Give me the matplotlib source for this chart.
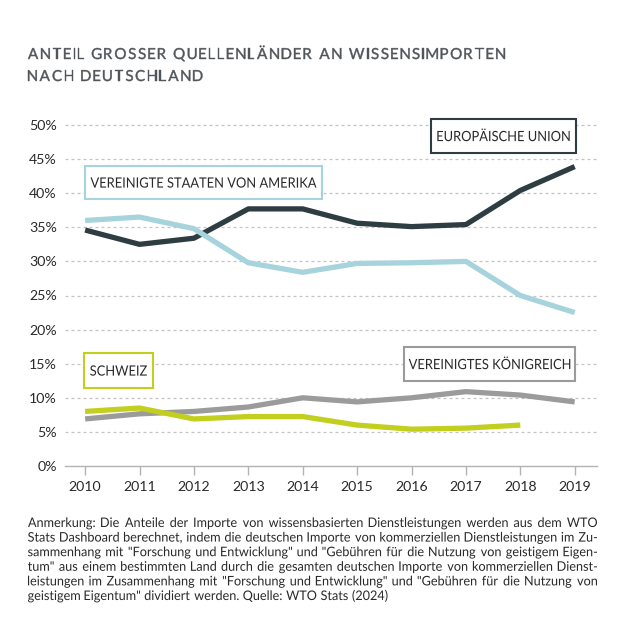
import matplotlib
matplotlib.use('Agg')
import matplotlib.pyplot as plt
from matplotlib.patches import Rectangle, PathPatch
from matplotlib.textpath import TextPath
from matplotlib.font_manager import FontProperties
from matplotlib.transforms import Affine2D, IdentityTransform

# ── Daten ──
years = [2010, 2011, 2012, 2013, 2014, 2015, 2016, 2017, 2018, 2019]
eu = [34.6, 32.5, 33.4, 37.7, 37.7, 35.6, 35.1, 35.4, 40.4, 43.9]
usa = [36.0, 36.5, 34.8, 29.8, 28.4, 29.7, 29.8, 30.0, 25.0, 22.5]
uk = [6.9, 7.65, 8.0, 8.65, 10.0, 9.4, 10.0, 10.9, 10.4, 9.4]
ch_years = [2010, 2011, 2012, 2013, 2014, 2015, 2016, 2017, 2018]
ch = [8.0, 8.5, 6.9, 7.25, 7.25, 6.0, 5.4, 5.55, 6.0]
yticks = [0, 5, 10, 15, 20, 25, 30, 35, 40, 45, 50]

title_lines = ['ANTEIL GROSSER QUELLENLÄNDER AN WISSENSIMPORTEN',
               'NACH DEUTSCHLAND']
note_lines = [
    'Anmerkung: Die Anteile der Importe von wissensbasierten Dienstleistungen werden aus dem WTO',
    'Stats Dashboard berechnet, indem die deutschen Importe von kommerziellen Dienstleistungen im Zu-',
    'sammenhang mit "Forschung und Entwicklung" und "Gebühren für die Nutzung von geistigem Eigen-',
    'tum" aus einem bestimmten Land durch die gesamten deutschen Importe von kommerziellen Dienst-',
    'leistungen im Zusammenhang mit "Forschung und Entwicklung" und "Gebühren für die Nutzung von',
    'geistigem Eigentum" dividiert werden. Quelle: WTO Stats (2024)',
]

# ── Stil ──
FONT = 'Lato'
PROP = FontProperties(family=FONT)
EU_C = '#2e3d42'
USA_C = '#a7d4dc'
UK_C = '#9b9b9b'
CH_C = '#c3cf1f'
TEXT = '#2a2a2a'
TITLE_C = '#505559'
GRID = '#c4c4c4'
AXIS = '#b3b3b3'

plt.rcParams['font.family'] = [FONT, 'DejaVu Sans']

W = H = 630
fig = plt.figure(figsize=(6.3, 6.3), dpi=100)
fig.patch.set_facecolor('white')


def fx(px):
    return px / W


def fy(py):
    return 1 - py / H


ax = fig.add_axes([fx(65), fy(466), fx(597) - fx(65), (466 - 125) / H])

LW = 3.8
ax.plot(years, eu, color=EU_C, lw=LW, solid_joinstyle='round', solid_capstyle='butt', zorder=3)
ax.plot(years, uk, color=UK_C, lw=LW, solid_joinstyle='round', solid_capstyle='butt', zorder=3)
ax.plot(years, usa, color=USA_C, lw=LW, solid_joinstyle='round', solid_capstyle='butt', zorder=4)
ax.plot(ch_years, ch, color=CH_C, lw=LW, solid_joinstyle='round', solid_capstyle='butt', zorder=4)

ax.set_xlim(2009.63, 2019.41)
ax.set_ylim(0, 50)
ax.set_xticks(years)
ax.set_xticklabels([str(y) for y in years])
ax.set_yticks(yticks)
ax.set_yticklabels([f'{v}%' for v in yticks])

for v in yticks[1:]:
    ax.axhline(v, color=GRID, lw=0.9, dashes=(2.4, 2.4), zorder=1, clip_on=False)

for s in ['top', 'right', 'left']:
    ax.spines[s].set_visible(False)
ax.spines['bottom'].set_color(AXIS)
ax.spines['bottom'].set_linewidth(1.0)
ax.tick_params(axis='y', length=0, pad=5.8, labelsize=10.2, labelcolor=TEXT)
ax.tick_params(axis='x', length=6.5, width=1.0, color=AXIS, pad=4,
               labelsize=10.2, labelcolor=TEXT)


# Schrift als Pfad (horizontal skalierbar), Maße in Pixeln
def path_w(s, size):
    e = TextPath((0, 0), s, size=size, prop=PROP).get_extents()
    return e.x1 - e.x0


def draw_word(s, x, base, size, sx, color, stroke=0):
    tp = TextPath((0, 0), s, size=size, prop=PROP)
    x0 = tp.get_extents().x0
    tr = Affine2D().translate(-x0, 0).scale(sx, 1).translate(x, H - base)
    fig.add_artist(PathPatch(tr.transform_path(tp), transform=IdentityTransform(),
                             facecolor=color, edgecolor=color if stroke else 'none',
                             lw=stroke, zorder=6))


# ── Titel mit Sperrung ──
TSIZE = 15.2
space_t = (path_w('A A', TSIZE) - path_w('AA', TSIZE)) * 0.55


def char_widths(s, size, sp):
    return [sp if c == ' ' else path_w(c, size) for c in s]


cw1 = char_widths(title_lines[0], TSIZE, space_t)
track = (505 - 28 - sum(cw1)) / (len(title_lines[0]) - 1)
for line, base in zip(title_lines, [59, 81]):
    x = 28
    for c, w in zip(line, char_widths(line, TSIZE, space_t)):
        if c != ' ':
            draw_word(c, x, base, TSIZE, 1.0, TITLE_C, stroke=0.3)
        x += w + track

# ── Legendenboxen ──
boxes = [
    ('EUROPÄISCHE UNION', EU_C, 431, 576, 119, 153),
    ('VEREINIGTE STAATEN VON AMERIKA', USA_C, 85, 322, 166, 199),
    ('SCHWEIZ', CH_C, 84, 153, 353, 388),
    ('VEREINIGTES KÖNIGREICH', UK_C, 404, 575, 347, 381),
]
BSIZE = 14.2
BSX = 226 / path_w(boxes[1][0], BSIZE)
cap = 0.72 * BSIZE
for label, col, x0, x1, y0, y1 in boxes:
    fig.add_artist(Rectangle((fx(x0), fy(y1)), fx(x1) - fx(x0), (y1 - y0) / H,
                             transform=fig.transFigure, fill=True, facecolor='white',
                             edgecolor=col, lw=1.5, zorder=5))
    lw_ = path_w(label, BSIZE) * BSX
    draw_word(label, (x0 + x1) / 2 - lw_ / 2, (y0 + y1) / 2 + cap / 2, BSIZE, BSX, TEXT)

# ── Anmerkung (Blocksatz) ──
NX0, NX1 = 28, 597
NSIZE = 13.2
sp0 = path_w('a a', NSIZE) - path_w('aa', NSIZE) + 1.5
nat = []
for line in note_lines[:-1]:
    ws = [path_w(w, NSIZE) for w in line.split(' ')]
    nat.append(sum(ws) + sp0 * (len(ws) - 1))
NSX = (NX1 - NX0) / max(nat) * 0.99
for i, line in enumerate(note_lines):
    base = 527 + i * 14.6
    words = line.split(' ')
    widths = [path_w(w, NSIZE) * NSX for w in words]
    if i == len(note_lines) - 1:
        gap = sp0 * NSX
    else:
        gap = (NX1 - NX0 - sum(widths)) / (len(words) - 1)
    x = NX0
    for w, ww in zip(words, widths):
        draw_word(w, x, base, NSIZE, NSX, TEXT)
        x += ww + gap

fig.savefig('out.png', dpi=100, facecolor='white')
